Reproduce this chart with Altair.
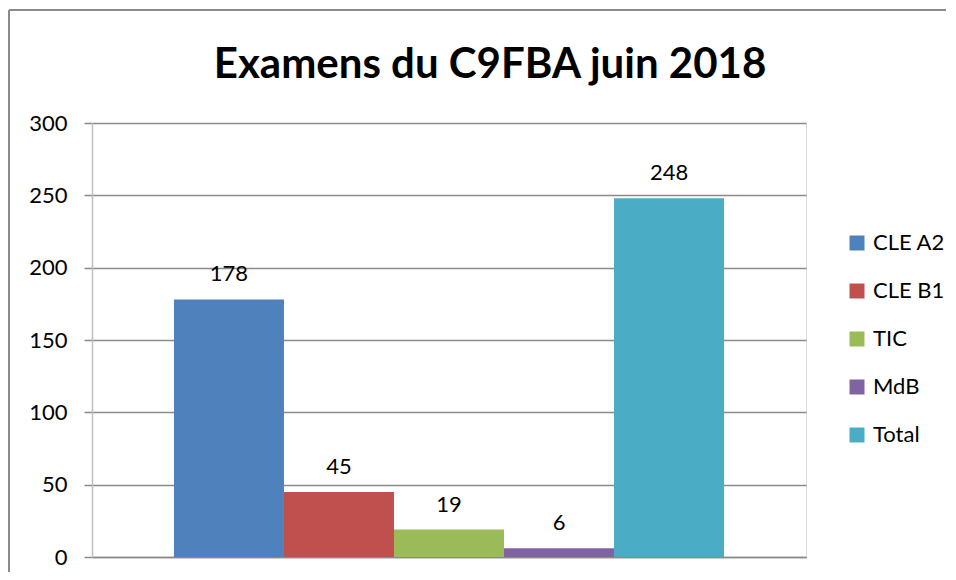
import altair as alt
import pandas as pd

series = ["CLE A2", "CLE B1", "TIC", "MdB", "Total"]
values = [178, 45, 19, 6, 248]
colors = ["#4F81BD", "#C0504D", "#9BBB59", "#8064A2", "#4BACC6"]
y_ticks = [0, 50, 100, 150, 200, 250, 300]
title_text = "Examens du C9FBA juin 2018"

df = pd.DataFrame({"serie": series, "valeur": values})

W, H = 714, 434
FONT = "Lato"

x_enc = alt.X("serie:N", sort=series,
              scale=alt.Scale(paddingInner=0, paddingOuter=0.745),
              axis=alt.Axis(labels=False, ticks=False, title=None, grid=False,
                            domainColor="#8a8a8a", domainWidth=1.5))
y_enc = alt.Y("valeur:Q", scale=alt.Scale(domain=[0, 300], nice=False),
              axis=alt.Axis(values=y_ticks, title=None, grid=True, gridColor="#8a8a8a",
                            gridWidth=1.5, tickColor="#8a8a8a", tickWidth=1.5, tickSize=8,
                            domainColor="#c0c0c0", domainWidth=1.5,
                            labelFontSize=22, labelFont=FONT, labelColor="#000000",
                            labelPadding=17))

bars = alt.Chart(df).mark_bar().encode(
    x=x_enc,
    y=y_enc,
    color=alt.Color("serie:N", sort=series,
                    scale=alt.Scale(domain=series, range=colors),
                    legend=alt.Legend(title=None, orient="none", legendX=754, legendY=109,
                                      symbolType="square", symbolSize=225, symbolStrokeWidth=0,
                                      labelFontSize=22, labelFont=FONT, labelColor="#000000",
                                      labelOffset=5, rowPadding=26)),
)

labels = alt.Chart(df).mark_text(fontSize=22, font=FONT, baseline="alphabetic", dy=-18,
                                 color="#000000").encode(
    x=alt.X("serie:N", sort=series), y="valeur:Q", text="valeur:Q")

one = alt.Data(values=[{"t": title_text}])
title = alt.Chart(one).mark_text(font=FONT, fontSize=42, fontWeight="bold", color="#000000",
                                 align="center", baseline="alphabetic").encode(
    x=alt.value(398), y=alt.value(-45), text="t:N")

border_left = alt.Chart(one).mark_rule(color="#8a8a8a", strokeWidth=2, clip=False).encode(
    x=alt.value(-83), y=alt.value(-113), y2=alt.value(H + 40))
border_top = alt.Chart(one).mark_rule(color="#8a8a8a", strokeWidth=2, clip=False).encode(
    x=alt.value(-83), x2=alt.value(W + 200), y=alt.value(-113))

chart = alt.layer(bars, labels, title, border_left, border_top).properties(
    width=W, height=H,
    autosize=alt.AutoSizeParams(type="none"),
    padding={"left": 84, "top": 115, "right": 140, "bottom": 15},
).configure_view(stroke=None).configure(background="#ffffff")

chart.save("out.html", embed_options={"renderer": "svg", "actions": False})
